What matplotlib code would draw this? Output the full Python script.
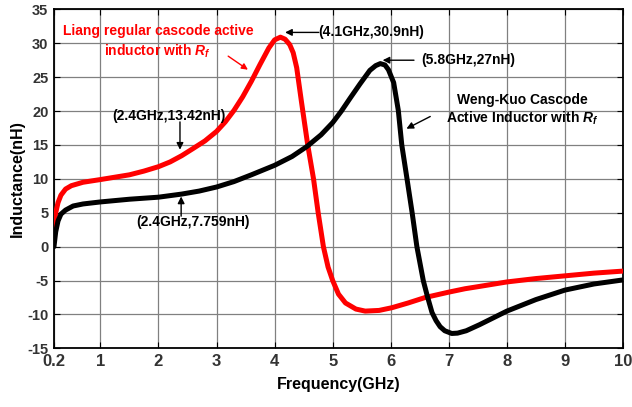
import numpy as np
import matplotlib
matplotlib.use('Agg')
import matplotlib.pyplot as plt

plt.rcParams['font.family'] = ['Liberation Sans', 'DejaVu Sans']
plt.rcParams['font.weight'] = 'bold'
plt.rcParams['mathtext.fontset'] = 'custom'
plt.rcParams['mathtext.it'] = 'Liberation Sans:italic:bold'
plt.rcParams['mathtext.rm'] = 'Liberation Sans:bold'

# Liang regular cascode active inductor with Rf (red)
liang_f = [0.2, 0.23, 0.27, 0.32, 0.4, 0.5, 0.7, 1.0, 1.5, 1.75, 2.0, 2.2, 2.4, 2.6,
           2.8, 3.0, 3.15, 3.3, 3.45, 3.6, 3.75, 3.9, 4.0, 4.1, 4.18, 4.26, 4.32,
           4.38, 4.46, 4.57, 4.67, 4.75, 4.84, 4.92, 5.0, 5.1, 5.22, 5.4, 5.56, 5.8,
           6.02, 6.3, 6.59, 7.0, 7.28, 7.5, 8.0, 8.5, 9.0, 9.5, 10.0]
liang_L = [3.0, 5.0, 6.5, 7.6, 8.5, 9.0, 9.5, 9.9, 10.6, 11.15, 11.8, 12.5, 13.42, 14.5,
           15.6, 17.0, 18.4, 20.1, 22.1, 24.4, 26.9, 29.3, 30.5, 30.9, 30.6, 29.8, 28.6,
           26.4, 21.5, 15.0, 10.0, 5.0, 0.0, -3.0, -5.0, -7.0, -8.3, -9.2, -9.5, -9.4,
           -9.0, -8.3, -7.5, -6.7, -6.2, -5.9, -5.2, -4.7, -4.3, -3.9, -3.6]

# Weng-Kuo cascode active inductor with Rf (black)
weng_f = [0.2, 0.23, 0.27, 0.32, 0.4, 0.53, 0.7, 1.0, 1.5, 2.0, 2.4, 2.7, 3.0, 3.3,
          3.6, 4.0, 4.3, 4.56, 4.8, 5.0, 5.15, 5.3, 5.47, 5.64, 5.74, 5.82, 5.9,
          5.96, 6.05, 6.13, 6.19, 6.28, 6.37, 6.45, 6.56, 6.63, 6.71, 6.78, 6.85,
          6.93, 7.05, 7.15, 7.3, 7.53, 8.0, 8.5, 9.0, 9.5, 10.0]
weng_L = [0.0, 2.2, 3.8, 4.8, 5.4, 6.0, 6.3, 6.6, 7.0, 7.3, 7.759, 8.2, 8.8, 9.6,
          10.6, 12.0, 13.3, 14.8, 16.5, 18.3, 20.0, 21.9, 24.0, 26.0, 26.7, 27.0, 26.8,
          26.1, 24.2, 20.1, 15.0, 10.0, 4.9, 0.0, -5.0, -7.3, -9.7, -10.9, -11.8,
          -12.4, -12.8, -12.75, -12.4, -11.5, -9.5, -7.8, -6.4, -5.5, -4.9]

xticks = [0.2, 1, 2, 3, 4, 5, 6, 7, 8, 9, 10]
xtick_labels = ['0.2', '1', '2', '3', '4', '5', '6', '7', '8', '9', '10']
yticks = list(range(-15, 36, 5))

fig = plt.figure(figsize=(6.32, 4.07), dpi=100)
ax = fig.add_axes([0.0854, 0.144, 0.9004, 0.833])

ax.plot(liang_f, liang_L, color='#ff0000', lw=3.6, solid_capstyle='round',
        solid_joinstyle='round', zorder=3)
ax.plot(weng_f, weng_L, color='black', lw=3.6, solid_capstyle='round',
        solid_joinstyle='round', zorder=3)

ax.set_xlim(0.2, 10)
ax.set_ylim(-15, 35)
ax.set_xticks(xticks)
ax.set_xticklabels(xtick_labels, fontsize=12, color='#333333')
ax.set_yticks(yticks)
ax.set_yticklabels([str(v) for v in yticks], fontsize=10.5, color='#333333')
ax.grid(True, color='#808080', lw=0.9)
ax.tick_params(direction='in', length=4, top=True, right=True, width=0.8, pad=4)
for s in ax.spines.values():
    s.set_linewidth(1.3)

ax.set_xlabel('Frequency(GHz)', fontsize=11.5, fontweight='bold', labelpad=6)
ax.set_ylabel('Inductance(nH)', fontsize=11.5, fontweight='bold', labelpad=2)

arrow = dict(arrowstyle='-|>', color='black', lw=1.0, mutation_scale=10, shrinkA=0, shrinkB=0)

ax.text(1.99, 30.2, 'Liang regular cascode active\ninductor with $R_f$', color='#ff0000',
        fontsize=10, ha='center', va='center', linespacing=1.35)
ax.annotate('', xy=(3.54, 26.1), xytext=(3.2, 28.1),
            arrowprops=dict(arrowstyle='-|>', color='#ff0000', lw=1.0, mutation_scale=9,
                            shrinkA=0, shrinkB=0))

ax.text(4.75, 31.6, '(4.1GHz,30.9nH)', fontsize=10, ha='left', va='center')
ax.annotate('', xy=(4.18, 31.6), xytext=(4.76, 31.6), arrowprops=arrow)

ax.text(6.53, 27.5, '(5.8GHz,27nH)', fontsize=10, ha='left', va='center')
ax.annotate('', xy=(5.86, 27.5), xytext=(6.4, 27.5), arrowprops=arrow)

ax.text(8.27, 20.2, 'Weng-Kuo Cascode\nActive Inductor with $R_f$', fontsize=10,
        ha='center', va='center', linespacing=1.2)
ax.annotate('', xy=(6.27, 17.4), xytext=(6.68, 19.2), arrowprops=arrow)

ax.text(2.18, 19.3, '(2.4GHz,13.42nH)', fontsize=10, ha='center', va='center')
ax.annotate('', xy=(2.37, 14.3), xytext=(2.37, 18.4), arrowprops=arrow)

ax.text(2.6, 3.6, '(2.4GHz,7.759nH)', fontsize=10, ha='center', va='center')
ax.annotate('', xy=(2.39, 7.4), xytext=(2.39, 4.5), arrowprops=arrow)

fig.savefig('out.png', dpi=100)
